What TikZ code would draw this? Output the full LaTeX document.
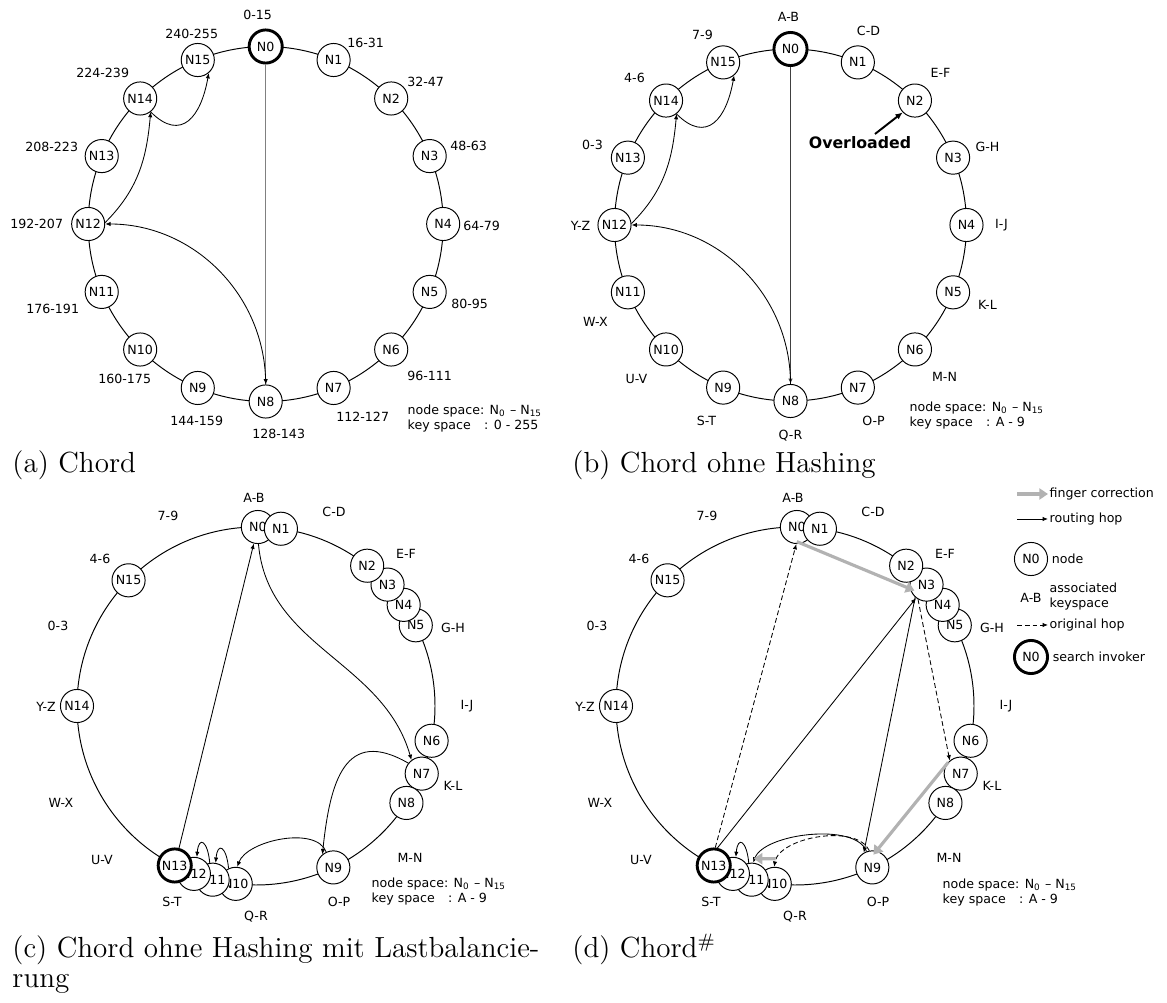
\documentclass[tikz,border=0pt]{standalone}
\usepackage{fontspec}
\usepackage{tikz}
\usetikzlibrary{arrows.meta,calc,positioning}

\newfontfamily\dgfont{DejaVu Sans}
% node angles after load balancing (order = drawing order, for the overlaps)
\newcommand{\lbangles}{0/89.4, 1/82, 5/26.8, 4/34.4, 3/42.7, 2/51.6, 6/-11.2, 7/-22.2, 8/-32.8, 9/-64.4, 10/-96.5, 11/-104, 12/-110.3, 14/180, 15/135.4}
% key ranges without hashing, relative to the ring centre
\newcommand{\keyranges}{A-B/-2/208, C-D/78/194, E-F/150/152, G-H/197/78, I-J/211/0, K-L/197/-80, M-N/154/-152, O-P/83/-196, Q-R/0/-211, S-T/-84/-196, U-V/-154/-154, W-X/-195/-97, Y-Z/-210/-1, 0-3/-198/80, 4-6/-156/147, 7-9/-88/190}

\begin{document}
\begin{tikzpicture}[x=0.0145cm, y=0.0145cm,
    peer/.style={draw, circle, fill=white, line width=0.4pt, minimum size=0.48cm, inner sep=0pt, font=\dgfont\fontsize{5.2}{6.2}\selectfont},
    invoker/.style={peer, line width=1.2pt},
    keys/.style={font=\dgfont\fontsize{5.2}{6.2}\selectfont, inner sep=0.5pt},
    ring/.style={line width=0.4pt},
    hop/.style={line width=0.35pt, -{Latex[length=2.2pt,width=1.8pt]}},
    orighop/.style={hop, dash pattern=on 2pt off 1.2pt},
    fix/.style={line width=1.3pt, draw=black!30, -{Triangle[length=3.6pt,width=4.6pt]}},
    caption/.style={font=\fontsize{12}{14}\selectfont, inner sep=0pt, anchor=base west}]

  \useasboundingbox (0,0) rectangle (1167,1003);

  % (a) Chord
  \begin{scope}[shift={(265.7,779)}]
    \draw[ring] (0,0) circle (177.5);
    \node[invoker] (a-N0) at (90:177.5) {N0};
    \foreach \n in {1,...,15}
      \node[peer] (a-N\n) at (90-22.5*\n:177.5) {N\n};
    \foreach \rng/\dx/\dy [count=\cnt] in {0-15/-8/209, 16-31/100/181, 32-47/160/142, 48-63/203/78, 64-79/216/-2, 80-95/204/-80, 96-111/164/-152, 112-127/97/-193, 128-143/13/-210, 144-159/-69/-197, 160-175/-141/-155, 176-191/-213/-85, 192-207/-229/0, 208-223/-214/77, 224-239/-163/151, 240-255/-74/190}
      \node[keys] (a-K\cnt) at (\dx,\dy) {\rng};
  \end{scope}
  \draw[hop, gray, -{Latex[length=2.2pt,width=1.8pt,color=black]}] (a-N0) -- (a-N8);
  \node[keys, anchor=west] (a-space) at (406,584) {\begin{tabular}{@{}l@{}l@{}}node space&: N\textsubscript{0} – N\textsubscript{15}\\key space&\ : 0 - 255\end{tabular}};
  \node[caption] (a-cap) at (12,530) {(a) Chord};

  % (b) Chord ohne Hashing
  \begin{scope}[shift={(790.5,778)}]
    \draw[ring] (0,0) circle (176);
    \node[invoker] (b-N0) at (90:176) {N0};
    \foreach \n in {1,...,15}
      \node[peer] (b-N\n) at (90-22.5*\n:176) {N\n};
    \foreach \rng/\dx/\dy [count=\cnt] in \keyranges
      \node[keys] (b-K\cnt) at (\dx,\dy) {\rng};
  \end{scope}
  \draw[hop, black!75] (b-N0) -- (b-N8);
  \node[font=\dgfont\bfseries\fontsize{6.5}{8}\selectfont, inner sep=1pt] (ovl) at (860,860) {Overloaded};
  \draw[line width=0.8pt, -{Latex[length=3pt,width=2.6pt]}] ($(ovl.north)+(15,0)$) -- (b-N2.224);
  \node[keys, anchor=west] (b-space) at (908,587) {\begin{tabular}{@{}l@{}l@{}}node space&: N\textsubscript{0} – N\textsubscript{15}\\key space&\ : A - 9\end{tabular}};
  \node[caption] (b-cap) at (572,530) {(b) Chord ohne Hashing};

  % lookups N0 -> N8 -> N12 -> N14 -> N15
  \foreach \p in {a,b} {
    \draw[hop] (\p-N8) to[out=90,in=0] (\p-N12);
    \draw[hop] (\p-N12.5) to[out=45,in=-95] (\p-N14.-52);
    \draw[hop] (\p-N14.-52) to[out=-45,in=-100,looseness=1.6] (\p-N15.-50);
  }

  % (c) Chord ohne Hashing mit Lastbalancierung
  \begin{scope}[shift={(256,297)}]
    \draw[ring] (0,0) circle (179);
    \foreach \n/\ang in \lbangles
      \node[peer] (c-N\n) at (\ang:179) {N\n};
    \node[invoker] (c-N13) at (-117:179) {N13};
    \foreach \rng/\dx/\dy [count=\cnt] in \keyranges
      \node[keys] (c-K\cnt) at (\dx,\dy) {\rng};
  \end{scope}
  \draw[hop] (c-N13) -- (c-N0);
  \draw[hop] (c-N0.-88) to[out=-85,in=106] (c-N7.127);
  \draw[hop] (c-N7.142) to[out=150,in=84,looseness=1.5] (c-N9.130);
  \draw[hop] (c-N9.115) to[out=110,in=70,looseness=0.8] (c-N10.85);
  \draw[hop] (c-N10.115) to[out=95,in=85,looseness=4] (c-N11.80);
  \draw[hop] (c-N11.100) to[out=95,in=85,looseness=4] (c-N12.80);
  \node[keys, anchor=west] (c-space) at (370,111) {\begin{tabular}{@{}l@{}l@{}}node space&: N\textsubscript{0} – N\textsubscript{15}\\key space&\ : A - 9\end{tabular}};
  \node[caption] (c-cap) at (12,45) {(c) Chord ohne Hashing mit Lastbalancie-};
  \node[caption] (c-cap2) at (12,15) {rung};

  % (d) Chord#
  \begin{scope}[shift={(795,297)}]
    \draw[ring] (0,0) circle (179);
    \foreach \n/\ang in \lbangles
      \node[peer] (d-N\n) at (\ang:179) {N\n};
    \node[invoker] (d-N13) at (-117:179) {N13};
    \foreach \rng/\dx/\dy [count=\cnt] in \keyranges
      \node[keys] (d-K\cnt) at (\dx,\dy) {\rng};
  \end{scope}
  \draw[orighop] (d-N13.85) -- (d-N0.-92);
  \draw[hop] (d-N13.78) -- (d-N3.232);
  \draw[orighop] (d-N3.240) -- (d-N7.130);
  \draw[hop] (d-N3.228) -- (d-N9.120);
  \draw[hop] (d-N9.110) to[out=110,in=70,looseness=0.7] (d-N11.85);
  \draw[orighop] (d-N9.100) to[out=115,in=80,looseness=0.8] (d-N10.92);
  \draw[hop] (d-N11.100) to[out=95,in=85,looseness=4] (d-N12.80);
  \draw[fix, shorten <=-2pt, shorten >=-2pt] (d-N0.-75) -- (d-N3.194);
  \draw[fix, shorten <=-1.5pt, shorten >=-2pt] (d-N7.150) -- (d-N9.76);
  \draw[fix] ($(d-N10.north)+(1,8)$) -- ($(d-N11.north)+(2,4)$);
  \node[keys, anchor=west] (d-space) at (941,110) {\begin{tabular}{@{}l@{}l@{}}node space&: N\textsubscript{0} – N\textsubscript{15}\\key space&\ : A - 9\end{tabular}};
  \node[caption] (d-cap) at (572,45) {(d) Chord$^{\#}$};

  % legend
  \coordinate (lfix) at (1017,509);
  \node[keys, anchor=west] (tfix) at (1048,509) {finger correction};
  \draw[fix] (lfix) -- (tfix);
  \coordinate (lhop) at (1017,484);
  \node[keys, anchor=west] (thop) at (1048,484) {routing hop};
  \draw[hop] (lhop) -- (thop);
  \node[peer] (lnode) at (1031,444) {N0};
  \node[keys, right=0.03cm of lnode] (tnode) {node};
  \node[keys] (lkey) at (1031,405) {A-B};
  \node[keys, anchor=west, align=left] (tkey) at (1048,406) {associated\\keyspace};
  \coordinate (lorig) at (1017,378);
  \node[keys, anchor=west] (torig) at (1048,378) {original hop};
  \draw[orighop] (lorig) -- (torig);
  \node[invoker] (linv) at (1031,346) {N0};
  \node[keys, right=0.03cm of linv] (tinv) {search invoker};
\end{tikzpicture}
\end{document}
